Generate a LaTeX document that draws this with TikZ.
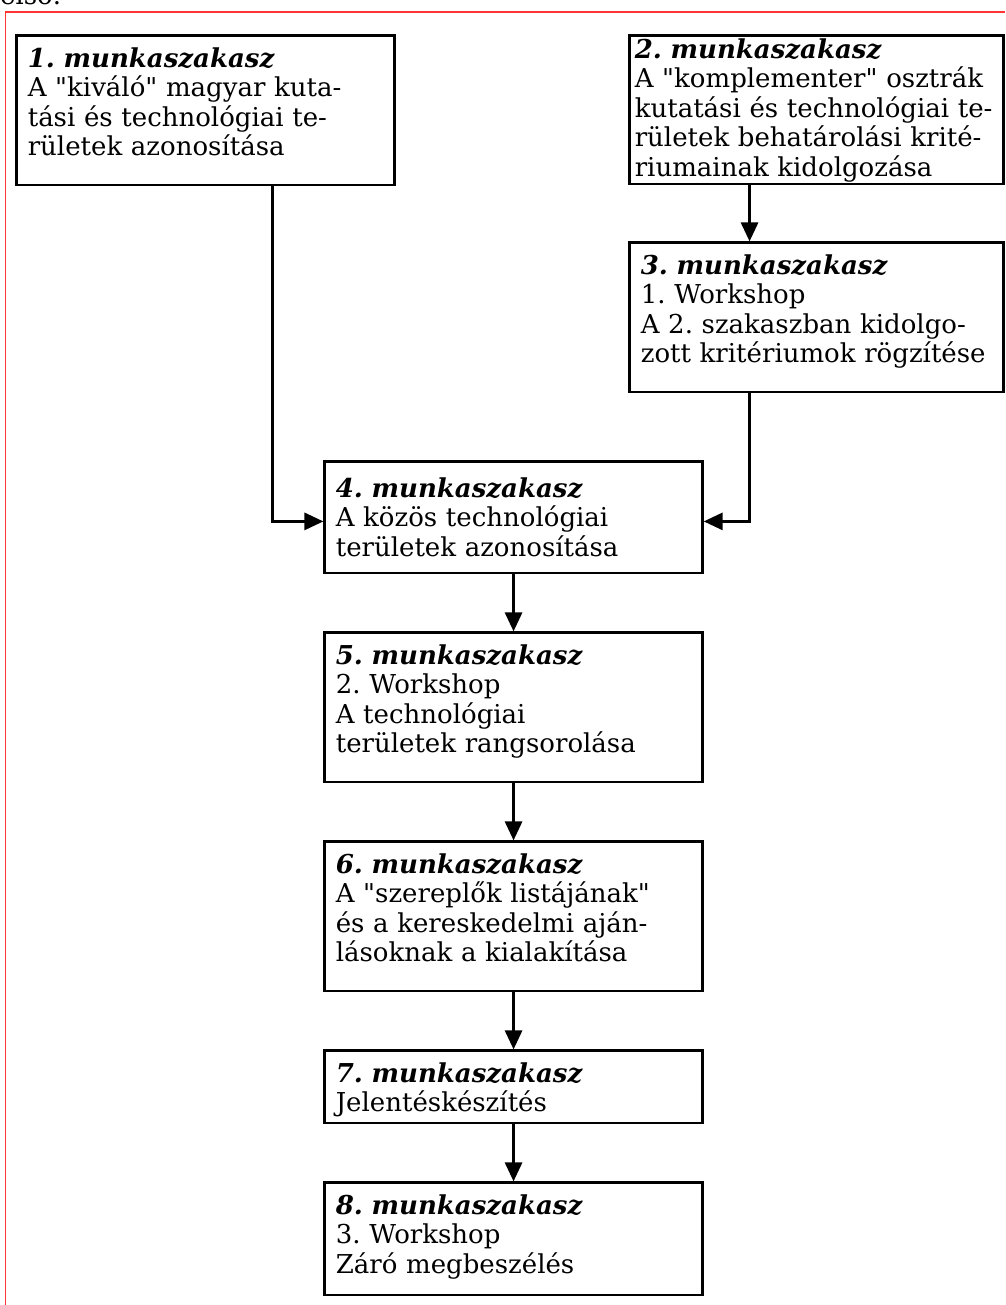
\documentclass[tikz,border=0pt]{standalone}
\usepackage{fontspec}
\setmainfont{DejaVu Serif}[Ligatures=TeXOff]
\usetikzlibrary{arrows.meta, positioning}
\newcommand{\szakasz}[1]{{\bfseries\itshape #1. munkaszakasz}}
\frenchspacing

\begin{document}
\begin{tikzpicture}[
      x=1pt, y=-1pt,
      stage/.style={draw=black, line width=2.8pt, inner xsep=11pt, inner ysep=8pt,
        text width=355.5pt, align=left, text height=23.65pt,
        font=\fontsize{26}{29.5}\selectfont},
      arrow/.style={-{Triangle[length=19pt, width=17pt]}, line width=3pt},
      frame/.style={draw=red!80, line width=1.2pt},
      node distance=57pt
    ]
    \useasboundingbox (0,0) rectangle (1005,1305);
    % page edge
    \draw[frame] (5.3,1305) -- (5.3,12) -- (1005,12);
    \node[anchor=base west, inner sep=0pt, font=\fontsize{26}{29.5}\selectfont] (elso) at (0,5) {első.};

    \node[stage, anchor=north west, text depth=109.55pt] (b1) at (15.4,34.4)
      {\szakasz{1}\\ A "kiváló" magyar kuta-\\ tási és technológiai te-\\ rületek azonosítása};
    \node[stage, anchor=north west, inner xsep=5pt, inner ysep=1pt, text width=363.5pt, text height=21.65pt, text depth=124.55pt] (b2) at (628.4,34.4)
      {\szakasz{2}\\ A "komplementer" osztrák\\ kutatási és technológiai te-\\ rületek behatárolási krité-\\ riumainak kidolgozása};
    \node[stage, text width=351.5pt, text depth=109.55pt, below=56pt of b2] (b3)
      {\szakasz{3}\\ 1. Workshop\\ A 2. szakaszban kidolgo-\\ zott kritériumok rögzítése};
    \node[stage, anchor=north west, inner ysep=10pt, text height=25.65pt, text depth=65.55pt] (b4) at (323.4,460.4)
      {\szakasz{4}\\ A közös technológiai\\ területek azonosítása};
    \node[stage, text depth=109.55pt, below=of b4] (b5)
      {\szakasz{5}\\ 2. Workshop\\ A technológiai\\ területek rangsorolása};
    \node[stage, text depth=109.55pt, below=of b5] (b6)
      {\szakasz{6}\\ A "szereplők listájának"\\ és a kereskedelmi aján-\\ lásoknak a kialakítása};
    \node[stage, text depth=32.55pt, below=of b6] (b7)
      {\szakasz{7}\\ Jelentéskészítés};
    \node[stage, text depth=72.55pt, below=of b7] (b8)
      {\szakasz{8}\\ 3. Workshop\\ Záró megbeszélés};

    \draw[arrow] ([xshift=67pt]b1.south) |- ([yshift=-4pt]b4.west);
    \draw[arrow] ([xshift=-67pt]b2.south) -- ([xshift=-67pt]b3.north);
    \draw[arrow] ([xshift=-67pt]b3.south) |- ([yshift=-4pt]b4.east);
    \draw[arrow] (b4) -- (b5);
    \draw[arrow] (b5) -- (b6);
    \draw[arrow] (b6) -- (b7);
    \draw[arrow] (b7) -- (b8);
  \end{tikzpicture}
\end{document}
